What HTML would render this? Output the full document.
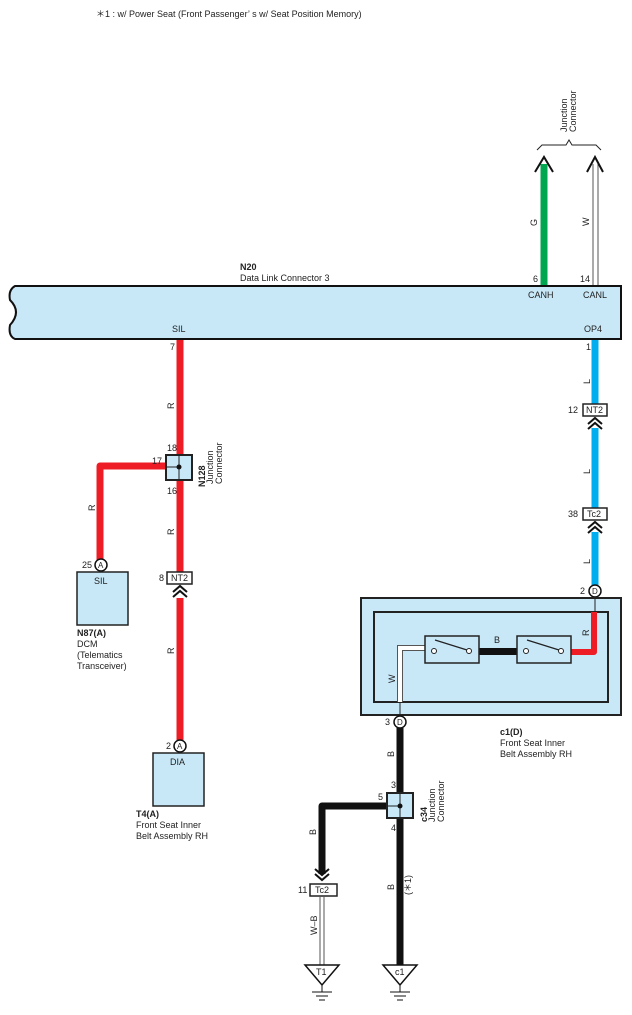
<!DOCTYPE html>
<html><head><meta charset="utf-8"><style>
html,body{margin:0;padding:0;background:#fff;}
svg{display:block;font-family:"Liberation Sans",Arial,sans-serif;}
text{font-size:9px;fill:#222;}
.b{font-weight:bold;}
</style></head><body>
<svg width="632" height="1015" viewBox="0 0 632 1015" xmlns="http://www.w3.org/2000/svg">
<text x="96" y="17">＊1 : w/ Power Seat (Front Passenger’ s w/ Seat Position Memory)</text>

<text transform="translate(567,132) rotate(-90)">Junction</text>
<text transform="translate(576,132) rotate(-90)">Connector</text>
<path d="M537,150 L542,145 L566,145 L569,140 L572,145 L596,145 L601,150" fill="none" stroke="#222" stroke-width="1"/>

<line x1="544" y1="164" x2="544" y2="285" stroke="#00a650" stroke-width="7"/>
<path d="M535,172 L544,157 L553,172" fill="none" stroke="#111" stroke-width="2"/>
<text transform="translate(537,226) rotate(-90)">G</text>
<text x="533" y="282">6</text>
<line x1="593" y1="164" x2="593" y2="285" stroke="#555" stroke-width="1"/>
<line x1="598" y1="164" x2="598" y2="285" stroke="#555" stroke-width="1"/>
<path d="M587,172 L595,157 L603,172" fill="none" stroke="#111" stroke-width="2"/>
<text transform="translate(589,226) rotate(-90)">W</text>
<text x="580" y="282">14</text>

<text x="240" y="270" class="b">N20</text>
<text x="240" y="281">Data Link Connector 3</text>
<path d="M15,286 L621,286 L621,339 L15,339 Q8,336 10,325 Q22,312 10,300 Q8,290 15,286 Z" fill="#c8e8f8" stroke="#111" stroke-width="2"/>
<text x="528" y="298">CANH</text>
<text x="583" y="298">CANL</text>
<text x="172" y="332">SIL</text>
<text x="584" y="332">OP4</text>

<line x1="180" y1="340" x2="180" y2="455" stroke="#ee1c25" stroke-width="7"/>
<line x1="180" y1="479" x2="180" y2="572" stroke="#ee1c25" stroke-width="7"/>
<line x1="180" y1="598" x2="180" y2="740" stroke="#ee1c25" stroke-width="7"/>
<text x="170" y="350">7</text>
<text transform="translate(174,409) rotate(-90)">R</text>
<text transform="translate(174,535) rotate(-90)">R</text>
<text transform="translate(174,654) rotate(-90)">R</text>
<path d="M100,560 L100,466 L166,466" fill="none" stroke="#ee1c25" stroke-width="7" stroke-linejoin="round"/>
<rect x="166" y="455" width="26" height="25" fill="#c8e8f8" stroke="#222" stroke-width="2"/>
<line x1="179" y1="455" x2="179" y2="480" stroke="#222" stroke-width="1"/>
<line x1="166" y1="467" x2="179" y2="467" stroke="#222" stroke-width="1"/>
<circle cx="179" cy="467" r="2.5" fill="#111"/>
<text x="167" y="451">18</text>
<text x="152" y="464">17</text>
<text x="167" y="494">16</text>
<text transform="translate(205,487) rotate(-90)" class="b">N128</text>
<text transform="translate(213,484) rotate(-90)">Junction</text>
<text transform="translate(222,484) rotate(-90)">Connector</text>
<text transform="translate(95,511) rotate(-90)">R</text>
<circle cx="101" cy="565" r="6" fill="#fff" stroke="#111" stroke-width="1.5"/>
<text x="98" y="568" style="font-size:8px">A</text>
<text x="82" y="568">25</text>
<rect x="77" y="572" width="51" height="53" fill="#c8e8f8" stroke="#222" stroke-width="1.5"/>
<text x="94" y="584">SIL</text>
<text x="77" y="636" class="b">N87(A)</text>
<text x="77" y="647">DCM</text>
<text x="77" y="658">(Telematics</text>
<text x="77" y="669"> Transceiver)</text>
<rect x="167" y="572" width="25" height="12" fill="#fff" stroke="#222" stroke-width="1.5"/>
<text x="171" y="581">NT2</text>
<text x="159" y="581">8</text>
<path d="M173,592 L180,586 L187,592 M173,597 L180,591 L187,597" fill="none" stroke="#111" stroke-width="2"/>
<circle cx="180" cy="746" r="6" fill="#fff" stroke="#111" stroke-width="1.5"/>
<text x="177" y="749" style="font-size:8px">A</text>
<text x="166" y="749">2</text>
<rect x="153" y="753" width="51" height="53" fill="#c8e8f8" stroke="#222" stroke-width="1.5"/>
<text x="170" y="765">DIA</text>
<text x="136" y="817" class="b">T4(A)</text>
<text x="136" y="828">Front Seat Inner</text>
<text x="136" y="839">Belt Assembly RH</text>

<line x1="595" y1="340" x2="595" y2="404" stroke="#00aeef" stroke-width="7"/>
<line x1="595" y1="428" x2="595" y2="508" stroke="#00aeef" stroke-width="7"/>
<line x1="595" y1="532" x2="595" y2="585" stroke="#00aeef" stroke-width="7"/>
<text x="586" y="350">1</text>
<text transform="translate(590,384) rotate(-90)">L</text>
<text transform="translate(590,474) rotate(-90)">L</text>
<text transform="translate(590,564) rotate(-90)">L</text>
<rect x="583" y="404" width="24" height="12" fill="#fff" stroke="#222" stroke-width="1.5"/>
<text x="586" y="413">NT2</text>
<text x="568" y="413">12</text>
<path d="M588,424 L595,418 L602,424 M588,429 L595,423 L602,429" fill="none" stroke="#111" stroke-width="2"/>
<rect x="583" y="508" width="24" height="12" fill="#fff" stroke="#222" stroke-width="1.5"/>
<text x="587" y="517">Tc2</text>
<text x="568" y="517">38</text>
<path d="M588,528 L595,522 L602,528 M588,533 L595,527 L602,533" fill="none" stroke="#111" stroke-width="2"/>
<circle cx="595" cy="591" r="6" fill="#fff" stroke="#111" stroke-width="1.5"/>
<text x="592" y="594" style="font-size:8px">D</text>
<text x="580" y="594">2</text>

<rect x="361" y="598" width="260" height="117" fill="#c8e8f8" stroke="#222" stroke-width="2"/>
<rect x="374" y="612" width="234" height="90" fill="#c8e8f8" stroke="#222" stroke-width="2"/>
<line x1="595" y1="597" x2="595" y2="612" stroke="#222" stroke-width="1"/>
<path d="M571,652 L594,652 L594,612" fill="none" stroke="#ee1c25" stroke-width="6" stroke-linejoin="round"/>
<text transform="translate(589,636) rotate(-90)">R</text>
<rect x="479" y="648" width="38" height="7" fill="#111"/>
<text x="494" y="643">B</text>
<path d="M425,648 L400,648 L400,702" fill="none" stroke="#555" stroke-width="6"/>
<path d="M425,648 L400,648 L400,702" fill="none" stroke="#fff" stroke-width="4"/>
<text transform="translate(395,683) rotate(-90)">W</text>
<rect x="425" y="636" width="54" height="27" fill="#c8e8f8" stroke="#222" stroke-width="1.5"/>
<rect x="517" y="636" width="54" height="27" fill="#c8e8f8" stroke="#222" stroke-width="1.5"/>
<path d="M435,640 L467,650 M527,640 L559,650" stroke="#222" stroke-width="1.2" fill="none"/>
<circle cx="434" cy="651" r="2.5" fill="#fff" stroke="#222"/>
<circle cx="469" cy="651" r="2.5" fill="#fff" stroke="#222"/>
<circle cx="526" cy="651" r="2.5" fill="#fff" stroke="#222"/>
<circle cx="561" cy="651" r="2.5" fill="#fff" stroke="#222"/>
<line x1="400" y1="702" x2="400" y2="716" stroke="#222" stroke-width="1"/>
<circle cx="400" cy="722" r="6" fill="#fff" stroke="#111" stroke-width="1.5"/>
<text x="397" y="725" style="font-size:8px">D</text>
<text x="385" y="725">3</text>
<text x="500" y="735" class="b">c1(D)</text>
<text x="500" y="746">Front Seat Inner</text>
<text x="500" y="757">Belt Assembly RH</text>

<line x1="400" y1="728" x2="400" y2="793" stroke="#111" stroke-width="7"/>
<line x1="400" y1="818" x2="400" y2="965" stroke="#111" stroke-width="7"/>
<text transform="translate(394,757) rotate(-90)">B</text>
<path d="M322,874 L322,806 L387,806" fill="none" stroke="#111" stroke-width="7" stroke-linejoin="round"/>
<rect x="387" y="793" width="26" height="25" fill="#c8e8f8" stroke="#222" stroke-width="2"/>
<line x1="400" y1="793" x2="400" y2="818" stroke="#222" stroke-width="1"/>
<line x1="387" y1="806" x2="400" y2="806" stroke="#222" stroke-width="1"/>
<circle cx="400" cy="806" r="2.5" fill="#111"/>
<text x="391" y="788">3</text>
<text x="378" y="800">5</text>
<text x="391" y="831">4</text>
<text transform="translate(427,822) rotate(-90)" class="b">c34</text>
<text transform="translate(435,822) rotate(-90)">Junction</text>
<text transform="translate(444,822) rotate(-90)">Connector</text>
<text transform="translate(316,835) rotate(-90)">B</text>
<text transform="translate(394,890) rotate(-90)">B</text>
<text transform="translate(411,895) rotate(-90)">(＊1)</text>
<path d="M315,874 L322,880 L329,874 M315,869 L322,875 L329,869" fill="none" stroke="#111" stroke-width="2"/>
<rect x="310" y="884" width="27" height="12" fill="#fff" stroke="#222" stroke-width="1.5"/>
<text x="315" y="893">Tc2</text>
<text x="298" y="893">11</text>
<line x1="320" y1="896" x2="320" y2="965" stroke="#555" stroke-width="1"/>
<line x1="324" y1="896" x2="324" y2="965" stroke="#555" stroke-width="1"/>
<text transform="translate(317,935) rotate(-90)">W–B</text>
<path d="M305,965 L339,965 L322,985 Z" fill="#fff" stroke="#111" stroke-width="1.5"/>
<text x="316" y="975">T1</text>
<path d="M383,965 L417,965 L400,985 Z" fill="#fff" stroke="#111" stroke-width="1.5"/>
<text x="395" y="975">c1</text>
<path d="M322,985 L322,992 M312,992 L332,992 M316,996 L328,996 M319,1000 L325,1000" stroke="#111" stroke-width="1" fill="none"/>
<path d="M400,985 L400,992 M390,992 L410,992 M394,996 L406,996 M397,1000 L403,1000" stroke="#111" stroke-width="1" fill="none"/>
</svg>
</body></html>
